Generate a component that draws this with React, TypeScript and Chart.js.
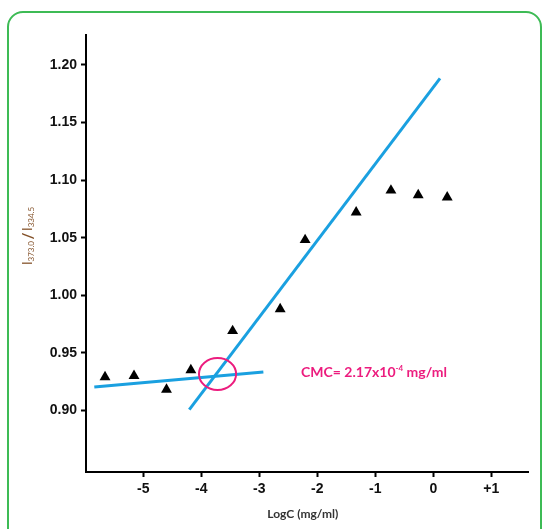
import React, { useEffect, useRef } from 'react';
import { Chart, registerables } from 'chart.js';

Chart.register(...registerables);

// ---- data ----
const pointsX = [-5.66, -5.16, -4.6, -4.18, -3.46, -2.64, -2.21, -1.33, -0.73, -0.26, 0.24];
const pointsY = [0.929, 0.93, 0.918, 0.935, 0.969, 0.988, 1.048, 1.072, 1.091, 1.087, 1.085];
const flatLineX = [-5.845, -2.93];
const flatLineY = [0.9203, 0.9334];
const steepLineX = [-4.207, 0.116];
const steepLineY = [0.9006, 1.1884];
const yTicks = [0.9, 0.95, 1.0, 1.05, 1.1, 1.15, 1.2];
const xTicks = [-5, -4, -3, -2, -1, 0, 1];
const xTickLabels = ['-5', '-4', '-3', '-2', '-1', '0', '+1'];
const cmcCircle = [-3.72, 0.9316]; // centre (x, y)
const cmcCircleRadius = [0.32, 0.0139]; // radii in axis units (x, y)
const cmcTextPos = [-2.28, 0.9328];
const xTitle = 'LogC (mg/ml)';

const BLUE = '#1aa0e0';
const PINK = '#ec1c7e';

const overlay = {
  id: 'overlay',
  afterDatasetsDraw(chart: any) {
    const { ctx, scales, chartArea } = chart;
    const xs = scales.x;
    const ys = scales.y;
    ctx.save();
    // ellipse
    const cx = xs.getPixelForValue(cmcCircle[0]);
    const cy = ys.getPixelForValue(cmcCircle[1]);
    const rx = Math.abs(xs.getPixelForValue(cmcCircle[0] + cmcCircleRadius[0]) - cx);
    const ry = Math.abs(ys.getPixelForValue(cmcCircle[1] + cmcCircleRadius[1]) - cy);
    ctx.beginPath();
    ctx.ellipse(cx, cy, rx, ry, 0, 0, Math.PI * 2);
    ctx.strokeStyle = PINK;
    ctx.lineWidth = 2;
    ctx.stroke();

    // CMC text
    let tx = xs.getPixelForValue(cmcTextPos[0]);
    const ty = ys.getPixelForValue(cmcTextPos[1]);
    ctx.fillStyle = PINK;
    ctx.textBaseline = 'middle';
    ctx.textAlign = 'left';
    const big = 'bold 14px Lato, "Open Sans", sans-serif';
    const small = 'bold 8px Lato, "Open Sans", sans-serif';
    const runs: [string, string, number][] = [
      ['CMC= 2.17x10', big, 0],
      ['-4', small, -4],
      [' mg/ml', big, 0],
    ];
    for (const [t, f, dy] of runs) {
      ctx.font = f;
      ctx.fillText(t, tx, ty + dy);
      tx += ctx.measureText(t).width;
    }

    // x title
    ctx.fillStyle = '#333';
    ctx.font = 'bold 12px Lato, "Open Sans", sans-serif';
    ctx.textAlign = 'center';
    ctx.fillText(xTitle, xs.getPixelForValue(-2.25), chartArea.bottom + 42);

    // y title (rotated)
    const yruns: [string, string, number][] = [
      ['I', '13px Lato, sans-serif', 0],
      ['373.0', '8px Lato, sans-serif', 3],
      [' ', '6px Lato, sans-serif', 0],
      ['/', 'bold 15px Lato, sans-serif', 0],
      [' ', '6px Lato, sans-serif', 0],
      ['I', '13px Lato, sans-serif', 0],
      ['334.5', '8px Lato, sans-serif', 3],
    ];
    let total = 0;
    for (const [t, f] of yruns) {
      ctx.font = f;
      total += ctx.measureText(t).width;
    }
    ctx.translate(28, 236);
    ctx.rotate(-Math.PI / 2);
    ctx.fillStyle = '#84522a';
    ctx.textAlign = 'left';
    let px = -total / 2;
    for (const [t, f, dy] of yruns) {
      ctx.font = f;
      ctx.fillText(t, px, dy);
      px += ctx.measureText(t).width;
    }
    ctx.restore();
  },
};

export default function App() {
  const ref = useRef<HTMLCanvasElement>(null);
  useEffect(() => {
    if (!ref.current) return;
    const tickFont = { family: 'Liberation Sans, Arial, sans-serif', size: 14, weight: 'bold' as const };
    const chart = new Chart(ref.current, {
      type: 'scatter',
      data: {
        datasets: [
          {
            type: 'line',
            data: flatLineX.map((x, i) => ({ x, y: flatLineY[i] })),
            borderColor: BLUE,
            borderWidth: 3,
            pointRadius: 0,
            showLine: true,
            fill: false,
          },
          {
            type: 'line',
            data: steepLineX.map((x, i) => ({ x, y: steepLineY[i] })),
            borderColor: BLUE,
            borderWidth: 3,
            pointRadius: 0,
            showLine: true,
            fill: false,
          },
          {
            type: 'scatter',
            data: pointsX.map((x, i) => ({ x, y: pointsY[i] })),
            pointStyle: 'triangle',
            pointRadius: 6.3,
            backgroundColor: '#000',
            borderColor: '#000',
            borderWidth: 0,
          },
        ],
      } as any,
      options: {
        responsive: false,
        animation: false,
        devicePixelRatio: 1,
        layout: { padding: { top: 35, right: 16, left: 0, bottom: 0 } },
        plugins: { legend: { display: false }, tooltip: { enabled: false } },
        scales: {
          x: {
            type: 'linear',
            min: -5.988,
            max: 1.633,
            afterBuildTicks: (s: any) => {
              s.ticks = xTicks.map((v) => ({ value: v }));
            },
            afterFit: (s: any) => {
              s.height = 57;
            },
            ticks: {
              callback: (v: any) => xTickLabels[xTicks.indexOf(v)] ?? '',
              font: tickFont,
              color: '#111',
              padding: 4,
              maxRotation: 0,
            },
            grid: { display: true, drawOnChartArea: false, drawTicks: true, tickLength: 5, tickWidth: 2, tickColor: '#000' },
            border: { display: true, color: '#000', width: 2 },
          },
          y: {
            type: 'linear',
            min: 0.8465,
            max: 1.226,
            afterBuildTicks: (s: any) => {
              s.ticks = yTicks.map((v) => ({ value: v }));
            },
            afterFit: (s: any) => {
              s.width = 86;
            },
            ticks: {
              callback: (v: any) => Number(v).toFixed(2),
              font: tickFont,
              color: '#111',
              padding: 4,
            },
            grid: { display: true, drawOnChartArea: false, drawTicks: true, tickLength: 5, tickWidth: 2, tickColor: '#000' },
            border: { display: true, color: '#000', width: 2 },
          },
        },
      } as any,
      plugins: [overlay],
    });
    return () => chart.destroy();
  }, []);

  return (
    <div style={{ position: 'absolute', left: 0, top: 0, width: 544, height: 529, overflow: 'hidden', background: '#fff' }}>
      <div
        style={{
          position: 'absolute',
          left: 7,
          top: 11,
          width: 531,
          height: 600,
          border: '2px solid #3dbb55',
          borderRadius: 16,
        }}
      />
      <canvas ref={ref} width={544} height={529} style={{ position: 'absolute', left: 0, top: 0, width: 544, height: 529 }} />
    </div>
  );
}
